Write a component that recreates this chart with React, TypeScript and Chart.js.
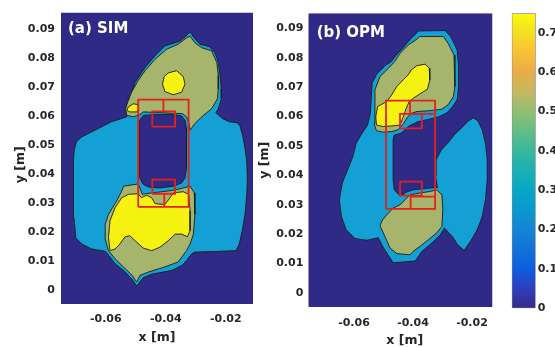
import React, { useEffect, useRef } from "react";
import { Chart, registerables } from "chart.js";

Chart.register(...registerables);

type Pt = [number, number]; // [x in mm, y in mm]

// ---------- axis ticks ----------
const X_TICKS = [-0.06, -0.04, -0.02];
const X_TICK_LABELS = ["-0.06", "-0.04", "-0.02"];
const Y_TICKS = [0, 0.01, 0.02, 0.03, 0.04, 0.05, 0.06, 0.07, 0.08, 0.09];
const Y_TICK_LABELS = ["0", "0.01", "0.02", "0.03", "0.04", "0.05", "0.06", "0.07", "0.08", "0.09"];
const CBAR_TICKS = [0, 0.1, 0.2, 0.3, 0.4, 0.5, 0.6, 0.7];
const CBAR_TICK_LABELS = ["0", "0.1", "0.2", "0.3", "0.4", "0.5", "0.6", "0.7"];
const CBAR_MAX = 0.75;

// ---------- axis ranges (m) ----------
const SIM_X_RANGE: [number, number] = [-0.07493, -0.01093];
const SIM_Y_RANGE: [number, number] = [-0.00477, 0.0956];
const OPM_X_RANGE: [number, number] = [-0.07549, -0.01305];
const OPM_Y_RANGE: [number, number] = [-0.00475, 0.0951];

// ---------- contour level colours ----------
const LEVEL_COLORS = ["#2e2a86", "#15a0d5", "#a6b46c", "#f6f312"];
const CBAR_STOPS: [number, string][] = [
  [0, "#352a87"], [0.07, "#2c40bf"], [0.13, "#0f5cdd"], [0.2, "#1172d8"],
  [0.27, "#1485d4"], [0.33, "#0c97cf"], [0.4, "#06a7c6"], [0.47, "#1bb0b3"],
  [0.53, "#36b89d"], [0.6, "#62bd86"], [0.67, "#92bf72"], [0.73, "#c3b961"],
  [0.8, "#e9ac47"], [0.87, "#f8c237"], [0.93, "#f4dd23"], [1, "#f9fb0e"],
];

// ---------- (a) SIM contour regions, mm ----------
const SIM_LEVEL1_OUTER: Pt[] = [
  [-31.9, 88.9], [-30.3, 86.6], [-28.6, 84.7], [-25.5, 83.9], [-23.6, 81.8], [-22.5, 78.4],
  [-21.9, 73.9], [-21.5, 69.3], [-21.5, 65.9], [-22.4, 62.7], [-23.3, 61.1], [-21.1, 59.1],
  [-18.8, 58.0], [-16.3, 57.7], [-15.3, 56.6], [-14.4, 53.4], [-13.6, 48.9], [-13.0, 44.3],
  [-12.8, 38.6], [-13.0, 33.0], [-13.6, 26.1], [-14.5, 20.5], [-15.5, 15.9], [-16.6, 13.6],
  [-24.2, 13.3], [-30.3, 13.1], [-31.4, 12.5], [-33.1, 10.2], [-34.7, 8.5], [-38.0, 6.8],
  [-44.7, 5.5], [-47.5, 4.3], [-49.7, 1.4], [-51.4, 4.0], [-54.1, 6.8], [-56.9, 9.1],
  [-58.6, 11.4], [-60.2, 13.4], [-64.7, 14.2], [-68.0, 15.9], [-70.0, 18.0], [-70.6, 25.0],
  [-70.8, 35.2], [-70.8, 44.3], [-70.5, 48.3], [-69.8, 51.1], [-68.0, 52.8], [-63.6, 55.1],
  [-58.1, 58.0], [-53.0, 59.7], [-52.5, 64.8], [-50.2, 71.6], [-46.9, 76.7], [-43.6, 80.7],
  [-40.3, 84.1], [-35.2, 85.8], [-33.3, 87.5],
];
const SIM_LEVEL1_HOLE: Pt[] = [
  [-47.5, 60.2], [-43.1, 60.5], [-37.5, 60.5], [-34.7, 60.0], [-33.6, 58.5], [-33.1, 55.7],
  [-33.1, 42.0], [-33.6, 38.6], [-34.7, 36.9], [-37.5, 35.8], [-42.0, 35.2], [-45.8, 35.5],
  [-47.7, 36.6], [-48.6, 38.6], [-48.8, 44.3], [-48.8, 55.7], [-48.6, 58.5],
];
const SIM_LEVEL2_TOP: Pt[] = [
  [-31.9, 87.5], [-30.3, 85.2], [-28.0, 83.5], [-24.7, 82.4], [-23.0, 78.4], [-22.5, 73.9],
  [-22.5, 69.3], [-22.8, 65.9], [-24.7, 62.5], [-27.5, 60.2], [-30.3, 57.4], [-31.9, 55.1],
  [-32.4, 58.0], [-33.1, 59.7], [-34.4, 60.8], [-47.5, 61.4], [-48.6, 60.5], [-50.8, 59.7],
  [-53.0, 60.2], [-53.4, 62.5], [-52.7, 64.8], [-51.4, 68.2], [-49.2, 72.2], [-46.9, 75.6],
  [-43.6, 79.5], [-39.7, 83.0], [-35.9, 84.7], [-33.1, 86.9],
];
const SIM_LEVEL2_BOTTOM: Pt[] = [
  [-54.1, 35.8], [-49.2, 36.6], [-47.8, 33.0], [-44.7, 33.5], [-41.3, 33.9], [-38.0, 34.3],
  [-34.9, 35.0], [-31.9, 35.8], [-30.5, 33.5], [-30.3, 26.1], [-30.8, 19.3], [-31.9, 15.9],
  [-33.1, 13.6], [-35.9, 9.7], [-40.3, 8.0], [-45.8, 6.25], [-48.6, 5.1], [-49.7, 2.8],
  [-51.2, 5.1], [-54.1, 8.0], [-56.9, 10.8], [-59.1, 13.6], [-60.2, 17.6], [-60.2, 22.7],
  [-59.1, 26.1], [-56.4, 30.7], [-54.7, 34.1],
];
const SIM_LEVEL3_SPOT_A: Pt[] = [
  [-39.2, 74.8], [-36.4, 75.6], [-34.2, 73.6], [-33.6, 71.0], [-34.7, 68.2], [-37.5, 67.3],
  [-40.3, 68.4], [-41.1, 71.0], [-40.5, 73.6],
];
const SIM_LEVEL3_SPOT_B: Pt[] = [
  [-52.5, 63.1], [-50.8, 64.2], [-49.4, 63.9], [-49.0, 62.5], [-49.7, 61.4], [-52.0, 61.4], [-53.0, 61.9],
];
const SIM_LEVEL3_BOTTOM: Pt[] = [
  [-58.6, 13.6], [-59.1, 18.2], [-58.6, 23.9], [-56.9, 28.4], [-54.7, 31.8], [-52.5, 33.0],
  [-49.2, 33.2], [-48.1, 31.8], [-46.4, 32.7], [-44.7, 31.8], [-43.6, 29.8], [-40.3, 29.5],
  [-38.6, 31.8], [-37.5, 33.5], [-34.2, 33.9], [-32.4, 33.0], [-31.9, 27.3], [-31.9, 20.5],
  [-32.8, 18.4], [-34.7, 19.3], [-36.9, 19.3], [-39.2, 17.0], [-42.0, 14.8], [-44.7, 13.6],
  [-47.5, 14.5], [-50.2, 17.0], [-52.0, 18.75], [-53.6, 18.4], [-55.3, 15.9], [-56.9, 14.2],
];
const SIM_SENSOR_OUTLINES: Pt[][] = [
  [[-49.2, 28.7], [-32.4, 28.7], [-32.4, 65.6], [-49.2, 65.6], [-49.2, 28.7]],
  [[-44.5, 56.3], [-36.9, 56.3], [-36.9, 61.6], [-44.5, 61.6], [-44.5, 56.3]],
  [[-40.8, 61.6], [-40.8, 65.6]],
  [[-44.5, 33.2], [-36.9, 33.2], [-36.9, 38.1], [-44.5, 38.1], [-44.5, 33.2]],
  [[-40.5, 28.7], [-40.5, 33.2]],
];

// ---------- (b) OPM contour regions, mm ----------
const OPM_LEVEL1_MAIN: Pt[] = [
  [-38.2, 88.9], [-29.2, 89.1], [-27.4, 87.2], [-25.2, 82.6], [-24.7, 77.0], [-24.7, 70.2],
  [-25.2, 65.7], [-26.9, 63.2], [-28.6, 61.4], [-31.4, 60.0], [-35.4, 59.1], [-38.7, 58.3],
  [-41.6, 56.8], [-43.9, 54.6], [-46.5, 53.8], [-46.9, 52.1], [-46.9, 38.5], [-46.5, 35.1],
  [-44.4, 32.8], [-42.1, 34.2], [-39.9, 34.9], [-36.5, 35.3], [-32.5, 35.7], [-30.9, 35.9],
  [-29.2, 32.8], [-28.6, 28.3], [-29.2, 22.6], [-30.9, 19.8], [-33.6, 17.2], [-37.1, 14.2],
  [-39.3, 11.1], [-46.7, 10.5], [-48.3, 13.0], [-50.1, 15.8], [-51.7, 19.0], [-55.7, 18.1],
  [-59.7, 18.7], [-62.5, 21.5], [-64.1, 26.0], [-64.8, 31.7], [-63.8, 37.4], [-62.0, 41.9],
  [-60.2, 46.4], [-59.1, 50.9], [-57.4, 53.8], [-55.2, 57.2], [-54.3, 61.1], [-54.0, 65.7],
  [-53.7, 71.3], [-52.1, 74.5], [-49.5, 77.0], [-47.2, 78.7], [-45.5, 80.9], [-43.3, 83.2],
  [-41.0, 86.0], [-38.7, 88.3],
];
const OPM_LEVEL1_RIGHT: Pt[] = [
  [-19.6, 59.4], [-18.2, 58.6], [-16.7, 55.5], [-15.6, 50.9], [-15.0, 45.3], [-15.0, 38.5],
  [-15.6, 31.7], [-16.7, 26.0], [-18.4, 21.5], [-20.7, 17.5], [-22.7, 14.7], [-24.7, 16.4],
  [-26.3, 19.0], [-28.1, 20.9], [-29.7, 22.6], [-30.9, 27.2], [-30.2, 31.7], [-31.4, 35.1],
  [-32.2, 39.6], [-32.0, 45.3], [-30.2, 48.7], [-28.1, 50.9], [-25.8, 53.8], [-23.5, 56.0],
  [-21.2, 58.3],
];
const OPM_LEVEL2_TOP: Pt[] = [
  [-37.7, 87.2], [-29.7, 87.2], [-28.1, 84.9], [-26.1, 80.9], [-25.8, 75.9], [-25.8, 70.2],
  [-26.3, 66.8], [-28.1, 64.0], [-30.2, 62.5], [-34.3, 62.0], [-38.7, 61.7], [-40.5, 61.1],
  [-41.9, 59.8], [-43.3, 57.5], [-45.0, 55.5], [-47.2, 54.9], [-50.1, 54.7], [-52.4, 55.2],
  [-53.2, 57.7], [-52.9, 62.3], [-52.9, 69.1], [-51.2, 73.6], [-48.3, 76.4], [-46.2, 78.7],
  [-44.4, 81.5], [-41.6, 84.3], [-38.7, 86.3],
];
const OPM_LEVEL2_BOTTOM: Pt[] = [
  [-41.0, 33.4], [-37.7, 34.0], [-34.3, 34.5], [-32.0, 35.1], [-30.2, 33.4], [-29.9, 28.3],
  [-30.2, 22.6], [-32.0, 20.4], [-34.8, 18.1], [-37.7, 15.8], [-39.9, 14.2], [-41.0, 13.0],
  [-45.5, 13.4], [-47.8, 15.3], [-49.5, 19.2], [-51.2, 22.9], [-50.3, 24.9], [-48.3, 27.2],
  [-46.7, 28.9], [-44.4, 30.0], [-42.7, 31.7],
];
const OPM_LEVEL3_TOP: Pt[] = [
  [-38.7, 77.3], [-35.9, 77.8], [-34.5, 76.4], [-34.3, 72.5], [-35.1, 69.3], [-37.7, 67.7],
  [-39.9, 66.2], [-41.3, 65.1], [-42.3, 62.8], [-43.5, 59.4], [-44.4, 57.1], [-47.2, 56.8],
  [-50.1, 56.6], [-52.4, 57.1], [-52.6, 60.0], [-52.0, 63.4], [-48.9, 65.1], [-47.2, 67.4],
  [-45.5, 70.2], [-43.3, 72.5], [-41.6, 74.2], [-40.5, 75.9],
];
const OPM_SENSOR_OUTLINES: Pt[][] = [
  [[-49.15, 28.6], [-32.5, 28.6], [-32.5, 65.4], [-49.15, 65.4], [-49.15, 28.6]],
  [[-44.4, 56.0], [-37.0, 56.0], [-37.0, 60.9], [-44.4, 60.9], [-44.4, 56.0]],
  [[-41.0, 65.4], [-41.0, 60.9], [-32.5, 60.9]],
  [[-44.4, 33.1], [-37.0, 33.1], [-37.0, 37.9], [-44.4, 37.9], [-44.4, 33.1]],
  [[-40.8, 28.6], [-40.8, 32.8], [-32.5, 32.8]],
];

// ---------- styling ----------
const FONT = "'DejaVu Sans', 'Liberation Sans', sans-serif";
const TEXT_COLOR = "#262626";
const CONTOUR_LINE = "rgba(28,28,18,0.9)";
const SENSOR_RED = "#e3211c";

type Layer = { pts: Pt[]; level: number; outline: boolean; lw?: number };

interface PanelSpec {
  xRange: [number, number];
  yRange: [number, number];
  layers: Layer[];
  sensors: Pt[][];
  xTitle: string;
  yTitle: string;
  padTop: number;
  padRight: number;
  yAxisWidth: number;
  xAxisHeight: number;
  yTitlePad: number;
  xTitlePad: number;
  xTickPad: number;
  yTickPad: number;
}

const toData = (pts: Pt[], close: boolean) => {
  const d = pts.map(([x, y]) => ({ x: x / 1000, y: y / 1000 }));
  if (close) d.push({ ...d[0] });
  return d;
};

function polygonDataset(layer: Layer) {
  return {
    data: toData(layer.pts, true),
    fill: "shape",
    backgroundColor: LEVEL_COLORS[layer.level],
    borderColor: layer.outline ? CONTOUR_LINE : "rgba(0,0,0,0)",
    borderWidth: layer.outline ? layer.lw ?? 1 : 0,
    pointRadius: 0,
    pointHoverRadius: 0,
    tension: 0,
  };
}

function lineDataset(pts: Pt[]) {
  return {
    data: toData(pts, false),
    fill: false,
    backgroundColor: SENSOR_RED,
    borderColor: SENSOR_RED,
    borderWidth: 1.8,
    pointRadius: 0,
    pointHoverRadius: 0,
    tension: 0,
  };
}

const labelFor = (ticks: number[], labels: string[]) => (v: number | string) => {
  const i = ticks.findIndex((t) => Math.abs(t - Number(v)) < 1e-9);
  return i >= 0 ? labels[i] : "";
};

function panelConfig(spec: PanelSpec): any {
  const [x0, x1] = spec.xRange;
  const [y0, y1] = spec.yRange;
  const background: Layer = {
    pts: [[x0 * 1000, y0 * 1000], [x1 * 1000, y0 * 1000], [x1 * 1000, y1 * 1000], [x0 * 1000, y1 * 1000]],
    level: 0,
    outline: false,
  };
  const list: any[] = [polygonDataset(background), ...spec.layers.map(polygonDataset), ...spec.sensors.map(lineDataset)];
  const n = list.length;
  list.forEach((d, i) => (d.order = n - i));
  const tickFont = { family: FONT, size: 11, weight: "bold" as const };
  const titleFont = { family: FONT, size: 12.5, weight: "bold" as const, lineHeight: 1 };
  return {
    type: "line",
    data: { datasets: list },
    options: {
      animation: false,
      responsive: false,
      maintainAspectRatio: false,
      events: [],
      layout: { padding: { left: 0, top: spec.padTop, right: spec.padRight, bottom: 0 } },
      plugins: { legend: { display: false }, tooltip: { enabled: false } },
      scales: {
        x: {
          type: "linear",
          min: x0,
          max: x1,
          grid: { display: false, drawTicks: false },
          border: { display: false },
          afterBuildTicks: (s: any) => {
            s.ticks = X_TICKS.map((v) => ({ value: v }));
          },
          afterFit: (s: any) => {
            s.height = spec.xAxisHeight;
          },
          ticks: {
            font: tickFont,
            color: TEXT_COLOR,
            padding: spec.xTickPad,
            autoSkip: false,
            maxRotation: 0,
            callback: labelFor(X_TICKS, X_TICK_LABELS),
          },
          title: {
            display: true,
            text: spec.xTitle,
            font: titleFont,
            color: TEXT_COLOR,
            padding: { top: 0, bottom: spec.xTitlePad },
          },
        },
        y: {
          type: "linear",
          min: y0,
          max: y1,
          grid: { display: false, drawTicks: false },
          border: { display: false },
          afterBuildTicks: (s: any) => {
            s.ticks = Y_TICKS.map((v) => ({ value: v }));
          },
          afterFit: (s: any) => {
            s.width = spec.yAxisWidth;
          },
          ticks: {
            font: tickFont,
            color: TEXT_COLOR,
            padding: spec.yTickPad,
            autoSkip: false,
            callback: labelFor(Y_TICKS, Y_TICK_LABELS),
          },
          title: {
            display: true,
            text: spec.yTitle,
            font: titleFont,
            color: TEXT_COLOR,
            padding: { top: spec.yTitlePad, bottom: 0 },
          },
        },
      },
    },
  };
}

function colorbarConfig(): any {
  return {
    type: "bar",
    data: {
      labels: ["level"],
      datasets: [
        {
          data: [CBAR_MAX],
          backgroundColor: (ctx: any) => {
            const chart = ctx.chart;
            const area = chart.chartArea;
            if (!area) return LEVEL_COLORS[0];
            const g = chart.ctx.createLinearGradient(0, area.bottom, 0, area.top);
            CBAR_STOPS.forEach(([t, c]) => g.addColorStop(t, c));
            return g;
          },
          borderColor: "#8a8a8a",
          borderWidth: 1,
          borderSkipped: false,
          barPercentage: 1,
          categoryPercentage: 1,
        },
      ],
    },
    options: {
      animation: false,
      responsive: false,
      maintainAspectRatio: false,
      events: [],
      layout: { padding: { left: 11.7, top: 13.3, right: 0, bottom: 38.7 } },
      plugins: { legend: { display: false }, tooltip: { enabled: false } },
      scales: {
        x: { display: false },
        y: {
          position: "right",
          min: 0,
          max: CBAR_MAX,
          grid: { display: false, drawTicks: false },
          border: { display: false },
          afterBuildTicks: (s: any) => {
            s.ticks = CBAR_TICKS.map((v) => ({ value: v }));
          },
          afterFit: (s: any) => {
            s.width = 64.3;
          },
          ticks: {
            font: { family: FONT, size: 11, weight: "bold" },
            color: TEXT_COLOR,
            padding: 2,
            autoSkip: false,
            callback: labelFor(CBAR_TICKS, CBAR_TICK_LABELS),
          },
        },
      },
    },
  };
}

const SIM_PANEL: PanelSpec = {
  xRange: SIM_X_RANGE,
  yRange: SIM_Y_RANGE,
  layers: [
    { pts: SIM_LEVEL1_OUTER, level: 1, outline: true },
    { pts: SIM_LEVEL1_HOLE, level: 0, outline: true },
    { pts: SIM_LEVEL2_TOP, level: 2, outline: true },
    { pts: SIM_LEVEL2_BOTTOM, level: 2, outline: true },
    { pts: SIM_LEVEL3_SPOT_A, level: 3, outline: true },
    { pts: SIM_LEVEL3_SPOT_B, level: 3, outline: true },
    { pts: SIM_LEVEL3_BOTTOM, level: 3, outline: true },
  ],
  sensors: SIM_SENSOR_OUTLINES,
  xTitle: "x [m]",
  yTitle: "y [m]   ",
  padTop: 9.5,
  padRight: 2,
  yAxisWidth: 61,
  xAxisHeight: 43,
  yTitlePad: 14.75,
  xTitlePad: 2.75,
  xTickPad: 9,
  yTickPad: 6,
};

const OPM_PANEL: PanelSpec = {
  xRange: OPM_X_RANGE,
  yRange: OPM_Y_RANGE,
  layers: [
    { pts: OPM_LEVEL1_MAIN, level: 1, outline: true, lw: 1.6 },
    { pts: OPM_LEVEL1_RIGHT, level: 1, outline: true, lw: 1.6 },
    { pts: OPM_LEVEL1_MAIN, level: 1, outline: false },
    { pts: OPM_LEVEL1_RIGHT, level: 1, outline: false },
    { pts: OPM_LEVEL2_TOP, level: 2, outline: true },
    { pts: OPM_LEVEL2_BOTTOM, level: 2, outline: true },
    { pts: OPM_LEVEL3_TOP, level: 3, outline: true },
  ],
  sensors: OPM_SENSOR_OUTLINES,
  xTitle: "  x [m]",
  yTitle: "y [m]",
  padTop: 13.3,
  padRight: 7.5,
  yAxisWidth: 53.3,
  xAxisHeight: 40,
  yTitlePad: 3.25,
  xTitlePad: 0,
  xTickPad: 9.5,
  yTickPad: 5,
};

const panelLabel = (left: number, top: number): React.CSSProperties => ({
  position: "absolute",
  left,
  top,
  font: `bold 15px ${FONT}`,
  lineHeight: "15px",
  color: "#ffffff",
  whiteSpace: "nowrap",
});

export default function App() {
  const refA = useRef<HTMLCanvasElement>(null);
  const refB = useRef<HTMLCanvasElement>(null);
  const refC = useRef<HTMLCanvasElement>(null);

  useEffect(() => {
    const charts = [
      new Chart(refA.current as HTMLCanvasElement, panelConfig(SIM_PANEL)),
      new Chart(refB.current as HTMLCanvasElement, panelConfig(OPM_PANEL)),
      new Chart(refC.current as HTMLCanvasElement, colorbarConfig()),
    ];
    return () => charts.forEach((c) => c.destroy());
  }, []);

  return (
    <div
      style={{
        position: "fixed",
        left: 0,
        top: 0,
        width: 555,
        height: 347,
        overflow: "hidden",
        background: "#ffffff",
      }}
    >
      <canvas ref={refA} width={255} height={347} style={{ position: "absolute", left: 0, top: 0 }} />
      <canvas ref={refB} width={245} height={347} style={{ position: "absolute", left: 255, top: 0 }} />
      <canvas ref={refC} width={100} height={347} style={{ position: "absolute", left: 500, top: 0 }} />
      <div style={panelLabel(68, 20.8)}>(a) SIM</div>
      <div style={panelLabel(316.7, 24.8)}>(b) OPM</div>
    </div>
  );
}
